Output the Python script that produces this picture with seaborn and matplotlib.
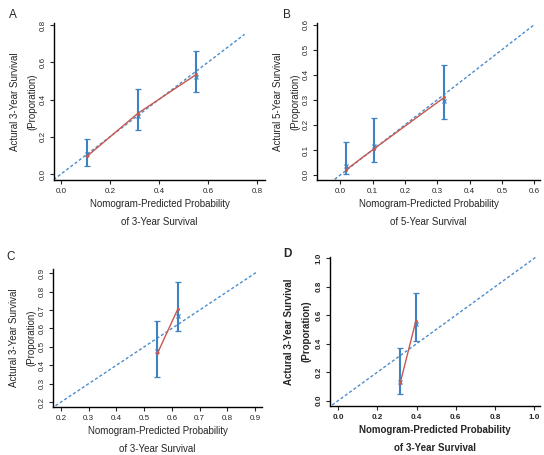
import matplotlib
matplotlib.use("Agg")
import matplotlib.pyplot as plt
import seaborn as sns
import pandas as pd

# ---- data ----
A_pred = [0.108, 0.313, 0.553]
A_obs = [0.097, 0.325, 0.535]
A_km = [0.110, 0.310, 0.520]
A_lo = [0.043, 0.235, 0.438]
A_hi = [0.190, 0.456, 0.660]

B_pred = [0.017, 0.105, 0.322]
B_obs = [0.020, 0.105, 0.310]
B_km = [0.035, 0.115, 0.297]
B_lo = [0.005, 0.050, 0.222]
B_hi = [0.130, 0.226, 0.440]

C_pred = [0.548, 0.622]
C_obs = [0.465, 0.708]
C_km = [0.475, 0.668]
C_lo = [0.336, 0.588]
C_hi = [0.643, 0.853]

D_pred = [0.317, 0.397]
D_obs = [0.126, 0.562]
D_km = [0.130, 0.540]
D_lo = [0.047, 0.419]
D_hi = [0.368, 0.754]

# ideal line start / end
A_diag = [-0.03, 0.75]
B_diag = [-0.03, 0.60]
C_diag = [0.18, 0.905]
D_diag = [-0.03, 1.01]

A_ticks = [0.0, 0.2, 0.4, 0.6, 0.8]
B_ticks = [0.0, 0.1, 0.2, 0.3, 0.4, 0.5, 0.6]
C_ticks = [0.2, 0.3, 0.4, 0.5, 0.6, 0.7, 0.8, 0.9]
D_ticks = [0.0, 0.2, 0.4, 0.6, 0.8, 1.0]

sns.set_theme(style="ticks")
plt.rcParams['font.family'] = ['Liberation Sans', 'DejaVu Sans']

BLUE = '#3f82c4'
RED = '#c8584e'
DIAG = '#4a8ccc'

fig = plt.figure(figsize=(5.44, 4.55), dpi=100)

panels = [
    # letter, pred, obs, km, lo, hi, diag, ticks, xlim, ylim, rect, years, bold
    ('A', A_pred, A_obs, A_km, A_lo, A_hi, A_diag, A_ticks, (-0.0286, 0.833), (-0.032, 0.811),
     [0.0993, 0.6044, 0.3877, 0.3451], '3', False),
    ('B', B_pred, B_obs, B_km, B_lo, B_hi, B_diag, B_ticks, (-0.072, 0.618), (-0.020, 0.607),
     [0.5827, 0.6044, 0.4099, 0.3451], '5', False),
    ('C', C_pred, C_obs, C_km, C_lo, C_hi, C_diag, C_ticks, (0.171, 0.925), (0.173, 0.923),
     [0.0974, 0.1055, 0.3842, 0.3033], '3', False),
    ('D', D_pred, D_obs, D_km, D_lo, D_hi, D_diag, D_ticks, (-0.041, 1.029), (-0.037, 1.009),
     [0.6066, 0.1077, 0.3860, 0.3275], '3', True),
]

letter_pos = {'A': (0.016, 0.980), 'B': (0.521, 0.980), 'C': (0.011, 0.449), 'D': (0.521, 0.455)}

for letter, pred, obs, km, lo, hi, diag, ticks, xlim, ylim, rect, yrs, bold in panels:
    ax = fig.add_axes(rect)
    weight = 'bold' if bold else 'normal'

    d = pd.DataFrame({'x': diag, 'y': diag})
    sns.lineplot(data=d, x='x', y='y', ax=ax, color=DIAG, lw=1.0,
                 linestyle=(0, (2.2, 1.6)), zorder=1)

    obs_df = pd.DataFrame({'pred': pred, 'obs': obs})
    sns.lineplot(data=obs_df, x='pred', y='obs', ax=ax, color=RED, lw=1.0,
                 marker='o', markersize=2.2, markeredgewidth=0, zorder=3)

    err_lo = [k - l for k, l in zip(km, lo)]
    err_hi = [h - k for k, h in zip(km, hi)]
    ax.errorbar(pred, km, yerr=[err_lo, err_hi], fmt='x', color=BLUE, ms=3,
                mew=0.9, elinewidth=1.5, capsize=2.2, capthick=1.0, zorder=2)

    ax.set_xlim(*xlim)
    ax.set_ylim(*ylim)
    ax.set_xticks(ticks)
    ax.set_yticks(ticks)
    ax.set_xticklabels([f'{t:.1f}' for t in ticks], fontsize=5.8, fontweight=weight)
    ax.set_yticklabels([f'{t:.1f}' for t in ticks], fontsize=5.8, fontweight=weight,
                       rotation=90, va='center')
    ax.tick_params(length=3, width=0.8, pad=2.5)
    sns.despine(ax=ax)
    for s in ['left', 'bottom']:
        ax.spines[s].set_linewidth(1.0)
        ax.spines[s].set_color('black')

    ax.set_xlabel(f'Nomogram-Predicted Probability\nof {yrs}-Year Survival',
                  fontsize=7, fontweight=weight, linespacing=1.95, labelpad=3.5)
    ax.set_ylabel(f'Actural {yrs}-Year Survival\n(Proporation)',
                  fontsize=7, fontweight=weight, linespacing=1.95,
                  labelpad=(2.5 if bold else 1.2))

    fig.text(*letter_pos[letter], letter, fontsize=8.5, fontweight=weight,
             ha='left', va='top')

fig.savefig('out.png', dpi=100)
